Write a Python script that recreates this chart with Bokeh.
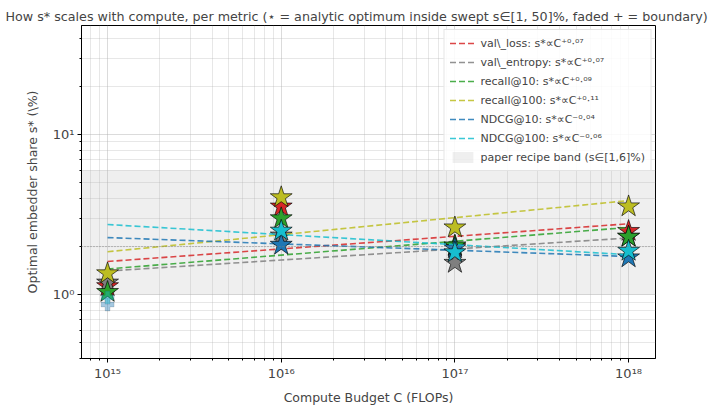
import numpy as np
from bokeh.plotting import figure
from bokeh.models import Range1d, FixedTicker, CustomJSTickFormatter, Span, Legend, LegendItem
from bokeh.embed import file_html
from bokeh.resources import INLINE

# ---------------- data ----------------
compute = [1e15, 1e16, 1e17, 1e18]
metric_names = ["val\\_loss", "val\\_entropy", "recall@10", "recall@100", "NDCG@10", "NDCG@100"]
exponent_labels = ["+0.07", "+0.07", "+0.09", "+0.11", "-0.04", "-0.06"]
s_val_loss = [1.13, 3.55, 2.00, 2.50]
s_val_entropy = [1.19, 2.34, 1.58, 2.30]
s_recall10 = [1.04, 3.00, 2.03, 2.30]
s_recall100 = [1.36, 4.06, 2.63, 3.56]
s_ndcg10 = [0.87, 2.05, 1.95, 1.71]
s_ndcg100 = [0.96, 2.51, 1.84, 1.88]
boundary_val_loss = [False, False, False, False]
boundary_val_entropy = [False, False, False, False]
boundary_recall10 = [False, False, False, False]
boundary_recall100 = [False, False, False, False]
boundary_ndcg10 = [True, False, False, False]
boundary_ndcg100 = [True, False, False, False]
band_low, band_high = 1.0, 6.0
reference_share = 2.0
x_ticks = [1e15, 1e16, 1e17, 1e18]
y_ticks = [1.0, 10.0]
x_start, x_end = 10 ** 14.85, 10 ** 18.155
y_start, y_end = 0.4, 48

series_values = [s_val_loss, s_val_entropy, s_recall10, s_recall100, s_ndcg10, s_ndcg100]
series_boundary = [boundary_val_loss, boundary_val_entropy, boundary_recall10,
                   boundary_recall100, boundary_ndcg10, boundary_ndcg100]
colors = ["#d62728", "#7f7f7f", "#2ca02c", "#bcbd22", "#1f77b4", "#17becf"]

SUP = {"0": "⁰", "1": "¹", "2": "²", "3": "³", "4": "⁴", "5": "⁵", "6": "⁶",
       "7": "⁷", "8": "⁸", "9": "⁹", "+": "⁺", "-": "⁻", ".": "·"}


def sup(s):
    return "".join(SUP.get(c, c) for c in s)


FONT = "DejaVu Sans"

p = figure(width=727, height=408, x_axis_type="log", y_axis_type="log",
           x_range=Range1d(x_start, x_end), y_range=Range1d(y_start, y_end),
           output_backend="svg", toolbar_location=None,
           min_border_left=81, min_border_right=72, min_border_top=25, min_border_bottom=50,
           title="How s* scales with compute, per metric (⋆ = analytic optimum inside swept s∈[1, 50]%, faded + = boundary)")

p.title.text_font = FONT
p.title.text_font_size = "12.7px"
p.title.text_font_style = "normal"
p.title.align = "left"
p.title.offset = -76
p.title.standoff = 4
p.outline_line_color = "black"
p.outline_line_width = 1
p.background_fill_color = "white"

# paper recipe band (spans the whole x range)
band_r = p.quad(left=[x_start], right=[x_end], bottom=[band_low], top=[band_high],
                fill_color="#b0b0b0", fill_alpha=0.2, line_color=None, level="underlay")
p.add_layout(Span(location=reference_share, dimension="width", line_color="#808080",
                  line_dash="1 2", line_width=1, line_alpha=0.9))

legend_items = []
logC = np.log10(np.array(compute))
for name, expo, vals, bnd, col in zip(metric_names, exponent_labels, series_values,
                                      series_boundary, colors):
    vals = np.array(vals)
    bnd = np.array(bnd)
    ok = ~bnd
    slope, icpt = np.polyfit(logC[ok], np.log10(vals[ok]), 1)
    fit = 10 ** (slope * logC + icpt)
    r = p.line(compute, fit, line_color=col, line_dash="6 3", line_width=1.6, line_alpha=0.85)
    legend_items.append(LegendItem(label=f"{name}: s*∝C{sup(expo)}", renderers=[r]))
    xs = [c for c, b in zip(compute, bnd) if not b]
    ys = [v for v, b in zip(vals, bnd) if not b]
    p.scatter(xs, ys, marker="star", size=23, fill_color=col, line_color="black",
              line_width=0.8, line_alpha=0.8)
    xb = [c for c, b in zip(compute, bnd) if b]
    yb = [v for v, b in zip(vals, bnd) if b]
    if xb:
        p.scatter(xb, yb, marker="plus", size=13, fill_color=col, fill_alpha=0.4,
                  line_color="black", line_alpha=0.2, line_width=0.6)

legend_items.append(LegendItem(label="paper recipe band (s∈[1,6]%)", renderers=[band_r]))

legend = Legend(items=legend_items, location="top_right")
legend.label_text_font = FONT
legend.label_text_font_size = "11px"
legend.label_height = 16
legend.glyph_height = 14
legend.glyph_width = 26
legend.spacing = 3
legend.padding = 5
legend.margin = 4
legend.border_line_color = "#cccccc"
legend.background_fill_alpha = 0.85
p.add_layout(legend)

# axes
fmt = CustomJSTickFormatter(code="""
const m = {'0':'⁰','1':'¹','2':'²','3':'³','4':'⁴','5':'⁵','6':'⁶','7':'⁷','8':'⁸','9':'⁹','-':'⁻'};
const e = Math.round(Math.log10(tick));
return '10' + String(e).split('').map(c => m[c]).join('');
""")
p.xaxis.ticker = FixedTicker(ticks=x_ticks,
                             minor_ticks=[k * 10.0 ** e for e in range(14, 19) for k in range(2, 10)])
p.yaxis.ticker = FixedTicker(ticks=y_ticks,
                             minor_ticks=[k * 10.0 ** e for e in range(-1, 2) for k in range(2, 10)])
for ax in (p.xaxis, p.yaxis):
    ax.formatter = fmt
    ax.major_label_text_font = FONT
    ax.major_label_text_font_size = "13px"
    ax.axis_label_text_font = FONT
    ax.axis_label_text_font_size = "12.5px"
    ax.axis_label_text_font_style = "normal"
    ax.major_tick_in = 0
    ax.major_tick_out = 4
    ax.minor_tick_in = 0
    ax.minor_tick_out = 2
    ax.axis_line_color = "black"
    ax.major_label_standoff = 3
    ax.axis_label_standoff = 6
p.xaxis.axis_label = "Compute Budget C (FLOPs)"
p.yaxis.axis_label = "Optimal embedder share s* (\\%)"
p.yaxis.axis_label_standoff = 10

for g in (p.xgrid, p.ygrid):
    g.grid_line_color = "#b0b0b0"
    g.grid_line_alpha = 0.45
    g.minor_grid_line_color = "#b0b0b0"
    g.minor_grid_line_alpha = 0.3

open("out.html", "w").write(file_html(p, INLINE))
